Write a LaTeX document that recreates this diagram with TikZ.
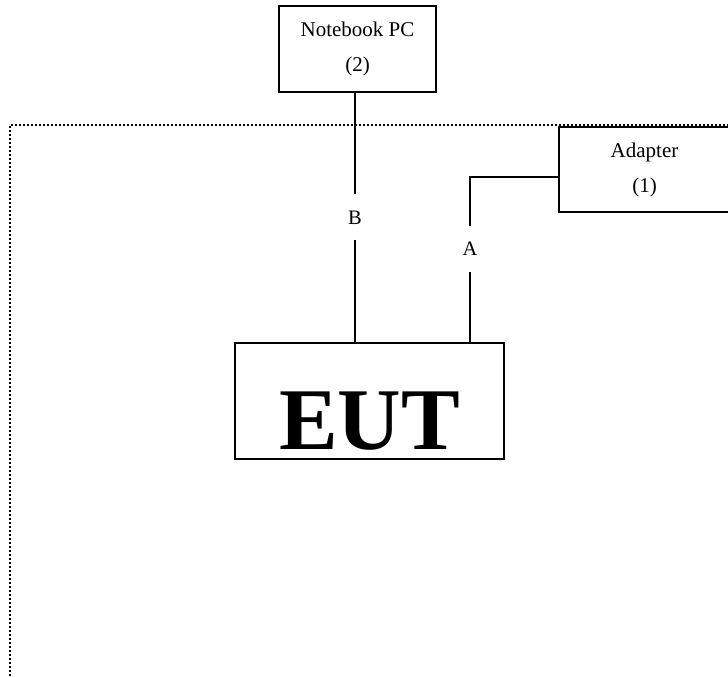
\documentclass[tikz,border=0pt]{standalone}
\usepackage{fontspec}
\setmainfont{Liberation Serif}
\usetikzlibrary{calc}

\begin{document}
\begin{tikzpicture}[x=1pt, y=-1pt, line width=1.2pt,
    unitbox/.style={draw, align=center, inner sep=0pt, font=\fontsize{21}{35}\selectfont},
    cablelabel/.style={fill=white, inner xsep=3pt, inner ysep=16pt, text height=14pt, text depth=0pt,
      font=\fontsize{20.5}{20.5}\selectfont}]
    \useasboundingbox (0,0) rectangle (728,677);
    % boundary
    \path[draw, dotted, line width=2.2pt, dash pattern=on 1.8pt off 2.2pt](729,125)to(10,125)to(10,679);
    % units
    \node[unitbox, fill=white, minimum width=157, minimum height=86](notebook)at(357.5,49){Notebook PC\\(2)};
    \node[unitbox, fill=white, minimum width=171, minimum height=85](adapter)at(644.5,169.5){Adapter\\(1)};
    % EUT
    \node[draw, inner sep=0pt, minimum width=269, minimum height=116, text height=96pt, text depth=0pt,
      font=\fontsize{88}{88}\selectfont\bfseries](eut)at(369.5,401){EUT};
    % cable ends
    \coordinate(pc)at($(notebook.south)+(-2.5,0)$);
    \coordinate(bend)at(470,177);
    % cable B
    \path[draw](pc)to node[cablelabel, pos=0.498]{B}(pc |- eut.north);
    % cable A
    \path[draw](adapter.west |- bend)to(bend)to node[cablelabel, pos=0.434]{A}(bend |- eut.north);
\end{tikzpicture}
\end{document}
